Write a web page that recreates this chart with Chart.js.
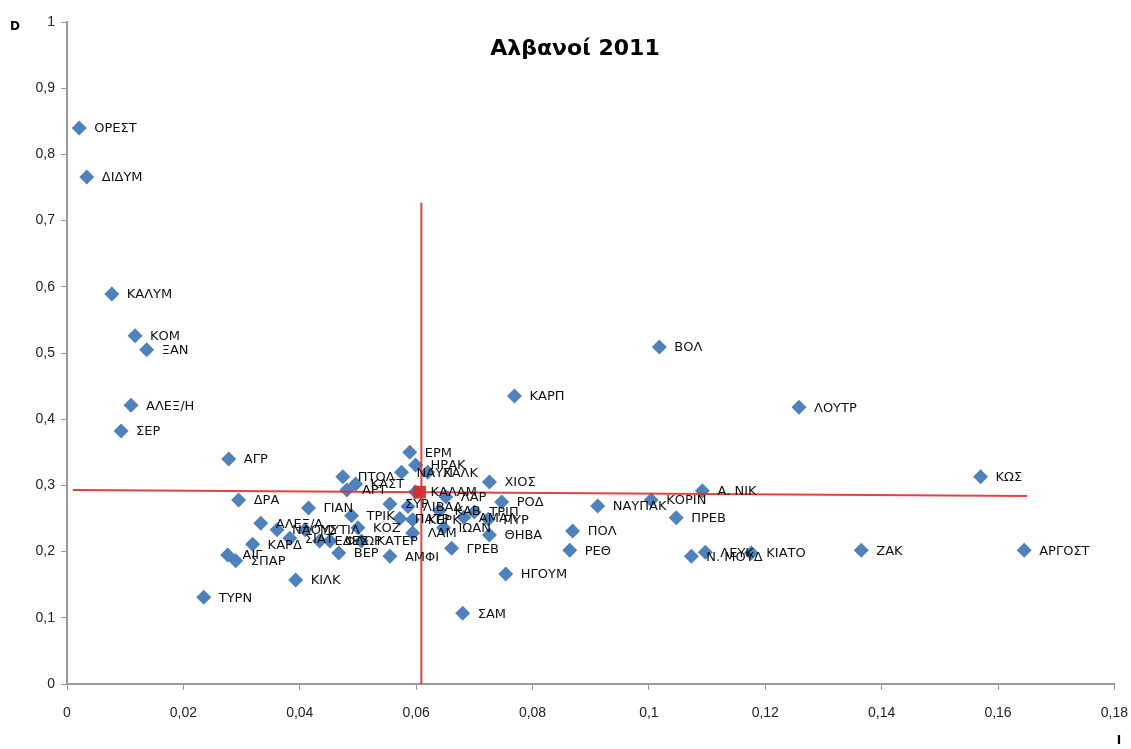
<!DOCTYPE html>
<html>
<head>
<meta charset="utf-8">
<script src="https://cdn.jsdelivr.net/npm/chart.js@4/dist/chart.umd.min.js"></script>
<style>
  html, body { margin: 0; padding: 0; background: #fff; }
  #box { width: 1131px; height: 749px; position: relative; }
</style>
</head>
<body>
<div id="box"><canvas id="myChart"></canvas></div>
<script>
// ονόματα πόλεων και τιμές (I οριζόντια, D κάθετη)
const names = ['ΟΡΕΣΤ','ΔΙΔΥΜ','ΚΑΛΥΜ','ΚΟΜ','ΞΑΝ','ΑΛΕΞ/Η','ΣΕΡ','ΑΓΡ','ΔΡΑ','ΒΟΛ',
  'ΚΑΡΠ','ΛΟΥΤΡ','ΚΩΣ','ΑΡΓΟΣΤ','ΖΑΚ','ΚΙΑΤΟ','ΛΕΥΚ','Ν. ΜΟΥΔ','Α. ΝΙΚ','ΚΟΡΙΝ',
  'ΝΑΥΠΑΚ','ΠΡΕΒ','ΠΟΛ','ΡΕΘ','ΗΓΟΥΜ','ΣΑΜ','ΧΙΟΣ','ΡΟΔ','ΤΡΙΠ','ΠΥΡ',
  'ΑΜΑΛ','ΘΗΒΑ','ΓΡΕΒ','ΙΩΑΝ','ΚΕΡΚ','ΛΑΜ','ΑΜΦΙ','ΚΑΛΑΜ','ΛΑΡ','ΣΥΡ',
  'ΛΙΒΑΔ','ΕΡΜ','ΗΡΑΚ','ΝΑΥΠ','ΧΑΛΚ','ΠΤΟΛ','ΑΡΤ','ΚΑΣΤ','ΤΡΙΚ','ΚΟΖ',
  'ΜΥΤΙΛ','ΝΑΟΥΣ','ΕΔΕΣ','ΚΑΤΕΡ','ΒΕΡ','ΓΙΑΝ','ΑΛΕΞ/Α','ΚΑΡΔ','ΑΙΓ','ΣΠΑΡ',
  'ΚΙΛΚ','ΤΥΡΝ','ΦΛΩΡ','ΠΑΤΡ','ΣΙΑΤ','ΚΑΒ'];
const valI = [0.0021,0.0034,0.0077,0.0117,0.0137,0.0110,0.0093,0.0278,0.0295,0.1018,
  0.0769,0.1258,0.1570,0.1645,0.1365,0.1176,0.1097,0.1073,0.1092,0.1004,
  0.0912,0.1047,0.0869,0.0864,0.0754,0.0680,0.0726,0.0747,0.0700,0.0724,
  0.0682,0.0726,0.0661,0.0647,0.0594,0.0594,0.0555,0.0599,0.0651,0.0555,
  0.0586,0.0589,0.0599,0.0575,0.0620,0.0474,0.0481,0.0496,0.0489,0.0500,
  0.0409,0.0361,0.0434,0.0506,0.0467,0.0415,0.0333,0.0319,0.0276,0.0290,
  0.0393,0.0235,0.0452,0.0572,0.0383,0.0640];
const valD = [0.840,0.766,0.589,0.526,0.505,0.421,0.382,0.340,0.278,0.509,
  0.435,0.418,0.313,0.202,0.202,0.198,0.199,0.193,0.292,0.278,
  0.269,0.251,0.231,0.202,0.166,0.107,0.305,0.275,0.260,0.249,
  0.252,0.225,0.205,0.236,0.248,0.228,0.193,0.290,0.283,0.272,
  0.268,0.350,0.331,0.320,0.320,0.313,0.293,0.302,0.254,0.236,
  0.233,0.233,0.216,0.216,0.198,0.266,0.243,0.211,0.195,0.186,
  0.157,0.131,0.216,0.250,0.220,0.262];

// κόκκινες γραμμές μέσων τιμών
const meanI = [0.0606];
const meanD = [0.290];
const vLineI = [0.0609, 0.0609];
const vLineD = [0.727, 0];
const hLineI = [0.001, 0.165];
const hLineD = [0.293, 0.284];

const pts = valI.map((v, i) => ({x: v, y: valD[i]}));
const toPts = (a, b) => a.map((v, i) => ({x: v, y: b[i]}));

const labelPlugin = {
  id: 'pointLabels',
  afterDatasetsDraw(chart) {
    const c = chart.ctx;
    const meta = chart.getDatasetMeta(3);
    c.save();
    c.font = '13px "DejaVu Sans"';
    c.fillStyle = '#111';
    c.textBaseline = 'middle';
    c.textAlign = 'left';
    meta.data.forEach((el, i) => {
      c.fillText(names[i], el.x + 15, el.y + 1);
    });
    // τίτλος και ονόματα αξόνων
    c.font = 'bold 22px "DejaVu Sans"';
    c.textAlign = 'center';
    c.fillStyle = '#000';
    c.fillText('Αλβανοί 2011', 575, 49);
    c.font = 'bold 12px "DejaVu Sans"';
    c.fillText('D', 15, 27);
    c.fillText('I', 1119, 741);
    c.restore();
  }
};

const ctx = document.getElementById('myChart').getContext('2d');
const myChart = new Chart(ctx, {
  type: 'scatter',
  data: {
    datasets: [
      {
        data: toPts(vLineI, vLineD),
        showLine: true, borderColor: 'rgba(222,45,45,0.9)', borderWidth: 2,
        pointRadius: 0, order: 0
      },
      {
        data: toPts(hLineI, hLineD),
        showLine: true, borderColor: 'rgba(222,45,45,0.9)', borderWidth: 2,
        pointRadius: 0, order: 0
      },
      {
        data: toPts(meanI, meanD),
        pointStyle: 'rect', pointRadius: 9, backgroundColor: 'rgba(215,40,40,0.9)',
        borderWidth: 0, order: 0
      },
      {
        data: pts,
        pointStyle: 'rectRot', pointRadius: 7.5, backgroundColor: '#4F81BD',
        borderWidth: 0, order: 1
      }
    ]
  },
  options: {
    responsive: true,
    maintainAspectRatio: false,
    animation: false,
    layout: { padding: { top: 22, right: 12, left: 0, bottom: 0 } },
    plugins: { legend: { display: false }, tooltip: { enabled: false } },
    scales: {
      x: {
        type: 'linear', min: 0, max: 0.18,
        grid: { drawOnChartArea: false, color: '#999', tickLength: 6 },
        border: { color: '#999', width: 2 },
        ticks: {
          stepSize: 0.02, color: '#222', padding: 3,
          font: { family: 'Liberation Sans', size: 14, lineHeight: 2.9 },
          callback: v => String(+v.toFixed(2)).replace('.', ',')
        },
        afterFit: s => { s.height = 65; }
      },
      y: {
        type: 'linear', min: 0, max: 1,
        grid: { drawOnChartArea: false, color: '#999', tickLength: 6 },
        border: { color: '#999', width: 2 },
        ticks: {
          stepSize: 0.1, color: '#222', padding: 6,
          font: { family: 'Liberation Sans', size: 14 },
          callback: v => String(+v.toFixed(1)).replace('.', ',')
        },
        afterFit: s => { s.width = 67; }
      }
    }
  },
  plugins: [labelPlugin]
});
</script>
</body>
</html>
